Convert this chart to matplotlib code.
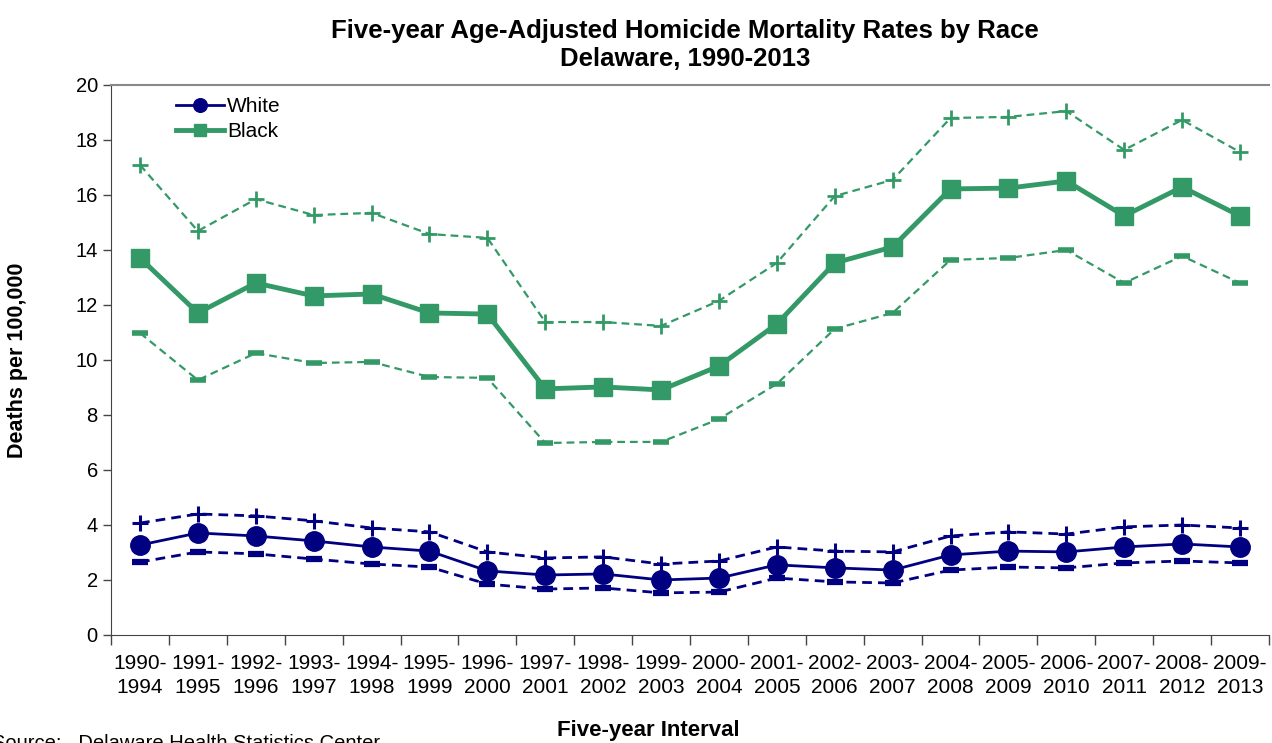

# Five-year age-adjusted homicide mortality rates by race, Delaware 1990-2013

import numpy as np
import matplotlib.pyplot as plt
from matplotlib.ticker import FixedLocator, NullFormatter

plt.rcParams['font.family'] = ['Liberation Sans', 'DejaVu Sans']

# five-year intervals
start_years = list(range(1990, 2010))
intervals = [f"{y}-\n{y + 4}" for y in start_years]

# rates per 100,000 with upper / lower confidence limits
white_rate = [3.27, 3.71, 3.60, 3.42, 3.20, 3.05, 2.33, 2.18, 2.22, 2.00,
              2.07, 2.55, 2.44, 2.36, 2.91, 3.05, 3.02, 3.20, 3.31, 3.20]
white_upper = [4.07, 4.40, 4.33, 4.15, 3.89, 3.75, 3.02, 2.80, 2.84, 2.58,
               2.69, 3.20, 3.05, 3.02, 3.60, 3.75, 3.67, 3.93, 4.00, 3.89]
white_lower = [2.65, 3.02, 2.95, 2.76, 2.58, 2.47, 1.85, 1.67, 1.71, 1.53,
               1.56, 2.07, 1.93, 1.89, 2.36, 2.47, 2.44, 2.62, 2.69, 2.62]

black_rate = [13.71, 11.71, 12.80, 12.33, 12.40, 11.71, 11.67, 8.95, 9.02, 8.91,
              9.78, 11.31, 13.53, 14.11, 16.22, 16.25, 16.51, 15.24, 16.29, 15.24]
black_upper = [17.09, 14.69, 15.85, 15.27, 15.35, 14.58, 14.44, 11.38, 11.38, 11.24,
               12.15, 13.53, 15.96, 16.55, 18.80, 18.84, 19.05, 17.64, 18.73, 17.56]
black_lower = [10.98, 9.27, 10.25, 9.89, 9.93, 9.38, 9.35, 6.98, 7.02, 7.02,
               7.85, 9.13, 11.13, 11.71, 13.64, 13.71, 14.00, 12.80, 13.78, 12.80]

navy = '#000080'
green = '#339966'

fig = plt.figure(figsize=(12.72, 7.43), dpi=100)
ax = fig.add_axes([0.0873, 0.1454, 0.9103, 0.7402])

x = np.arange(len(intervals))
dash = (0, (3.5, 2.2))

# confidence limits (dashed)
ax.plot(x, white_upper, color=navy, lw=2.0, ls=dash, marker='+', ms=11, mew=2.2)
ax.plot(x, white_lower, color=navy, lw=2.0, ls=dash, marker='_', ms=11, mew=4.5)
ax.plot(x, black_upper, color=green, lw=1.6, ls=dash, marker='+', ms=11, mew=2.0)
ax.plot(x, black_lower, color=green, lw=1.6, ls=dash, marker='_', ms=11, mew=4.0)

# rates
ax.plot(x, white_rate, color=navy, lw=2.0, marker='o', ms=14, label='White')
ax.plot(x, black_rate, color=green, lw=3.5, marker='s', ms=13, label='Black')

ax.set_xlim(-0.5, len(intervals) - 0.5)
ax.set_ylim(0, 20)
ax.set_yticks(range(0, 21, 2))
ax.set_xticks(x)
ax.set_xticklabels(intervals)
ax.xaxis.set_minor_locator(FixedLocator(np.arange(-0.5, len(intervals), 1.0)))
ax.xaxis.set_minor_formatter(NullFormatter())
ax.tick_params(axis='x', which='major', length=0, labelsize=15, pad=14)
ax.tick_params(axis='x', which='minor', length=7, width=1, color='#444444')
ax.tick_params(axis='y', length=6, width=1, labelsize=14.5, color='#444444')
for lab in ax.get_xticklabels():
    lab.set_linespacing(1.3)

ax.spines['top'].set_color('#888888')
ax.spines['top'].set_linewidth(1.5)
ax.spines['right'].set_visible(False)
ax.spines['left'].set_color('#444444')
ax.spines['bottom'].set_color('#444444')

ax.set_ylabel('Deaths per 100,000', fontsize=15.5, fontweight='bold', labelpad=34)
fig.text(0.51, 0.003, 'Five-year Interval', fontsize=16, fontweight='bold',
         ha='center', va='bottom')
fig.text(-0.006, -0.014, 'Source:   Delaware Health Statistics Center', fontsize=14.5,
         ha='left', va='bottom')
fig.text(0.5385, 0.975, 'Five-year Age-Adjusted Homicide Mortality Rates by Race\nDelaware, 1990-2013',
         fontsize=18.5, fontweight='bold', ha='center', va='top', linespacing=1.25)

leg = ax.legend(loc='upper left', bbox_to_anchor=(0.04, 1.012), frameon=False,
                fontsize=15, handlelength=2.3, handletextpad=0.15, labelspacing=0.3,
                markerscale=0.7)

fig.savefig('out.png', dpi=100)
